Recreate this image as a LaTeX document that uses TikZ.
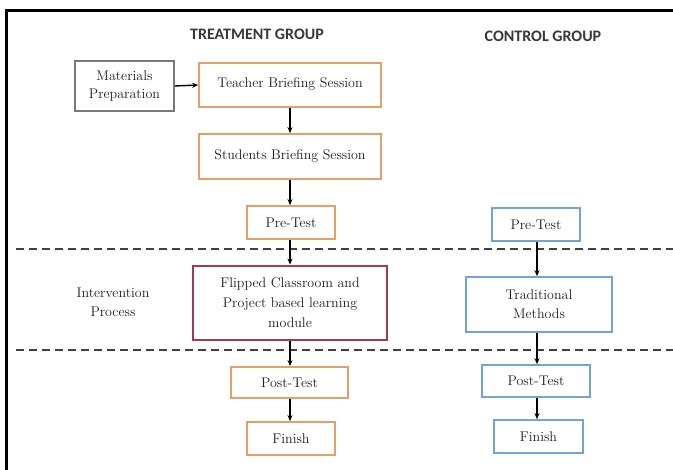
\documentclass[tikz,border=0pt]{standalone}
\usepackage{fontspec}
\newfontfamily\titlefont{Carlito}
\usetikzlibrary{arrows.meta}
\definecolor{orangeb}{RGB}{228,160,105}
\definecolor{redb}{RGB}{160,60,75}
\definecolor{blueb}{RGB}{115,165,210}
\definecolor{grayb}{RGB}{120,120,120}
\definecolor{txt}{RGB}{30,30,30}
\begin{document}
\begin{tikzpicture}[x=1pt,y=-1pt,
  every node/.style={font=\rmfamily\fontsize{14}{19}\selectfont, text=txt, align=center, inner sep=0pt},
  tbox/.style={draw=orangeb, line width=1.8pt, fill=white, rectangle},
  fbox/.style={draw=redb, line width=2.8pt, fill=white, rectangle},
  cbox/.style={draw=blueb, line width=1.6pt, fill=white, rectangle},
  gbox/.style={draw=grayb, line width=1.4pt, fill=white, rectangle},
  ttl/.style={font=\titlefont\bfseries\fontsize{16}{18}\selectfont, text=black!78},
  flow/.style={-{Stealth[length=6pt,width=5pt]}, line width=1.4pt, black},
  sep/.style={line width=2pt, black!75, dash pattern=on 8pt off 5pt}
]
\useasboundingbox (0,0) rectangle (673,470);
\fill[white] (0,0) rectangle (673,470);
\clip (0,0) rectangle (673,470);
% frame
\draw[line width=3pt, black] (6.5,480) -- (6.5,11) -- (690,11);
% separators
\draw[sep] (16,249.5) -- (673,249.5);
\draw[sep] (16,350.5) -- (673,350.5);
% titles
\node[ttl] (tt) at (257,34) {TREATMENT GROUP};
\node[ttl] (ct) at (543,36) {CONTROL GROUP};
% treatment column
\node[gbox, minimum width=99pt, minimum height=50pt] (mat) at (124.5,86) {Materials\\[-1pt]Preparation};
\node[tbox, minimum width=182pt, minimum height=44pt] (teach) at (290,85) {\raisebox{5pt}{Teacher Briefing Session}};
\node[tbox, minimum width=182pt, minimum height=45pt] (stud) at (290,156.5) {Students Briefing Session};
\node[tbox, minimum width=88pt, minimum height=33pt] (pret) at (291,222.5) {Pre-Test};
\node[fbox, minimum width=194pt, minimum height=74pt] (flip) at (290,303) {Flipped Classroom and\\[1pt]Project based learning\\[1pt]module};
\node[tbox, minimum width=117pt, minimum height=31pt] (postt) at (289.5,382.5) {Post-Test};
\node[tbox, minimum width=88pt, minimum height=33pt] (fint) at (291,438.5) {Finish};
% control column
\node[cbox, minimum width=88pt, minimum height=33pt] (prec) at (536,224.5) {Pre-Test};
\node[cbox, minimum width=146pt, minimum height=55pt] (trad) at (539,304.5) {Traditional\\Methods};
\node[cbox, minimum width=108pt, minimum height=32pt] (postc) at (536,381) {Post-Test};
\node[cbox, minimum width=89pt, minimum height=33pt] (finc) at (538.5,436.5) {Finish};
% side label
\node (int) at (113,302) {Intervention\\Process};
% connectors
\draw[flow] (mat.east) -- (teach.west);
\draw[flow] (teach.south -| 290,0) -- (stud.north -| 290,0);
\draw[flow] (stud.south -| 290,0) -- (pret.north -| 290,0);
\draw[flow] (pret.south -| 290,0) -- (flip.north -| 290,0);
\draw[flow] (flip.south -| 290,0) -- (postt.north -| 290,0);
\draw[flow] (postt.south -| 290,0) -- (fint.north -| 290,0);
\draw[flow] (prec.south -| 537,0) -- (trad.north -| 537,0);
\draw[flow] (trad.south -| 537,0) -- (postc.north -| 537,0);
\draw[flow] (postc.south -| 537,0) -- (finc.north -| 537,0);
\end{tikzpicture}
\end{document}
